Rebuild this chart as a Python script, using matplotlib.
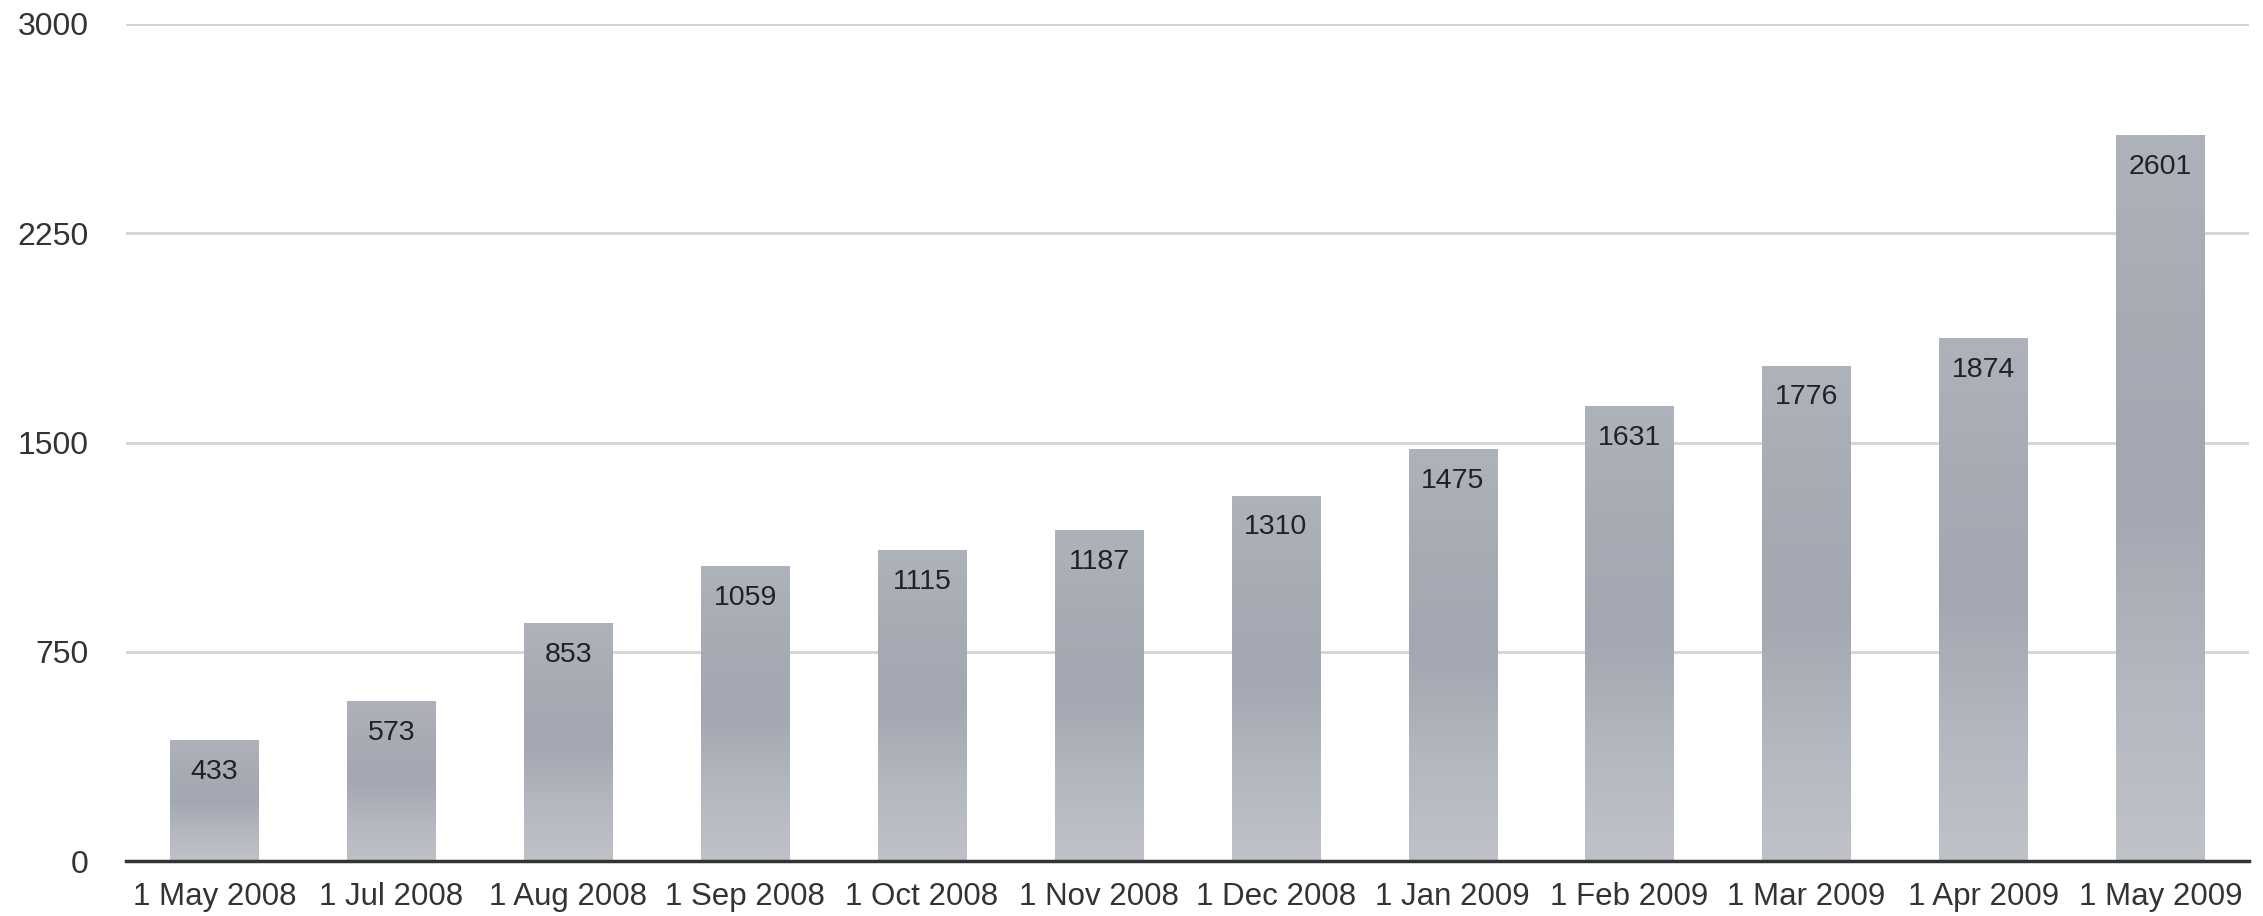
import matplotlib.pyplot as plt
import numpy as np
from matplotlib.colors import LinearSegmentedColormap

dates = ['1 May 2008', '1 Jul 2008', '1 Aug 2008', '1 Sep 2008', '1 Oct 2008', '1 Nov 2008',
         '1 Dec 2008', '1 Jan 2009', '1 Feb 2009', '1 Mar 2009', '1 Apr 2009', '1 May 2009']
counts = [433, 573, 853, 1059, 1115, 1187, 1310, 1475, 1631, 1776, 1874, 2601]
yticks = [0, 750, 1500, 2250, 3000]

plt.rcParams['font.family'] = ['Liberation Sans', 'DejaVu Sans']

fig = plt.figure(figsize=(22.63, 9.16), dpi=100)
ax = fig.add_axes([0.0557, 0.060, 0.938, 0.9138])

x = np.arange(len(dates))
bars = ax.bar(x, counts, 0.5, color='#a9adb6', zorder=2)

# grey sky-like gradient inside each bar
cmap = LinearSegmentedColormap.from_list('sky', ['#bfc2c8', '#b3b7bf', '#a2a7b1', '#a7abb4', '#aeb2ba'])
grad = np.linspace(0, 1, 256).reshape(-1, 1)
for b in bars:
    x0, w, h = b.get_x(), b.get_width(), b.get_height()
    im = ax.imshow(grad, cmap=cmap, aspect='auto', origin='lower',
                   extent=(x0, x0 + w, 0, h), zorder=2.5)
    im.set_clip_path(b)

for i, v in enumerate(counts):
    ax.annotate(str(v), (x[i], v), xytext=(0, -23), textcoords='offset points',
                ha='center', va='center', fontsize=20.5, color='#222222', zorder=3)

ax.set_xlim(-0.5, len(dates) - 0.5)
ax.set_ylim(0, 3000)
ax.set_yticks(yticks)
ax.set_xticks(x, dates)
ax.grid(axis='y', color='#d4d4d4', linewidth=2, zorder=0)
for s in ['top', 'right', 'left']:
    ax.spines[s].set_visible(False)
ax.spines['bottom'].set_color('#333333')
ax.spines['bottom'].set_linewidth(2.5)
ax.spines['bottom'].set_zorder(4)
ax.tick_params(axis='both', length=0, labelcolor='#333333')
ax.tick_params(axis='y', pad=27, labelsize=23)
ax.tick_params(axis='x', pad=15, labelsize=22.5)

plt.savefig('out.png', dpi=100)
